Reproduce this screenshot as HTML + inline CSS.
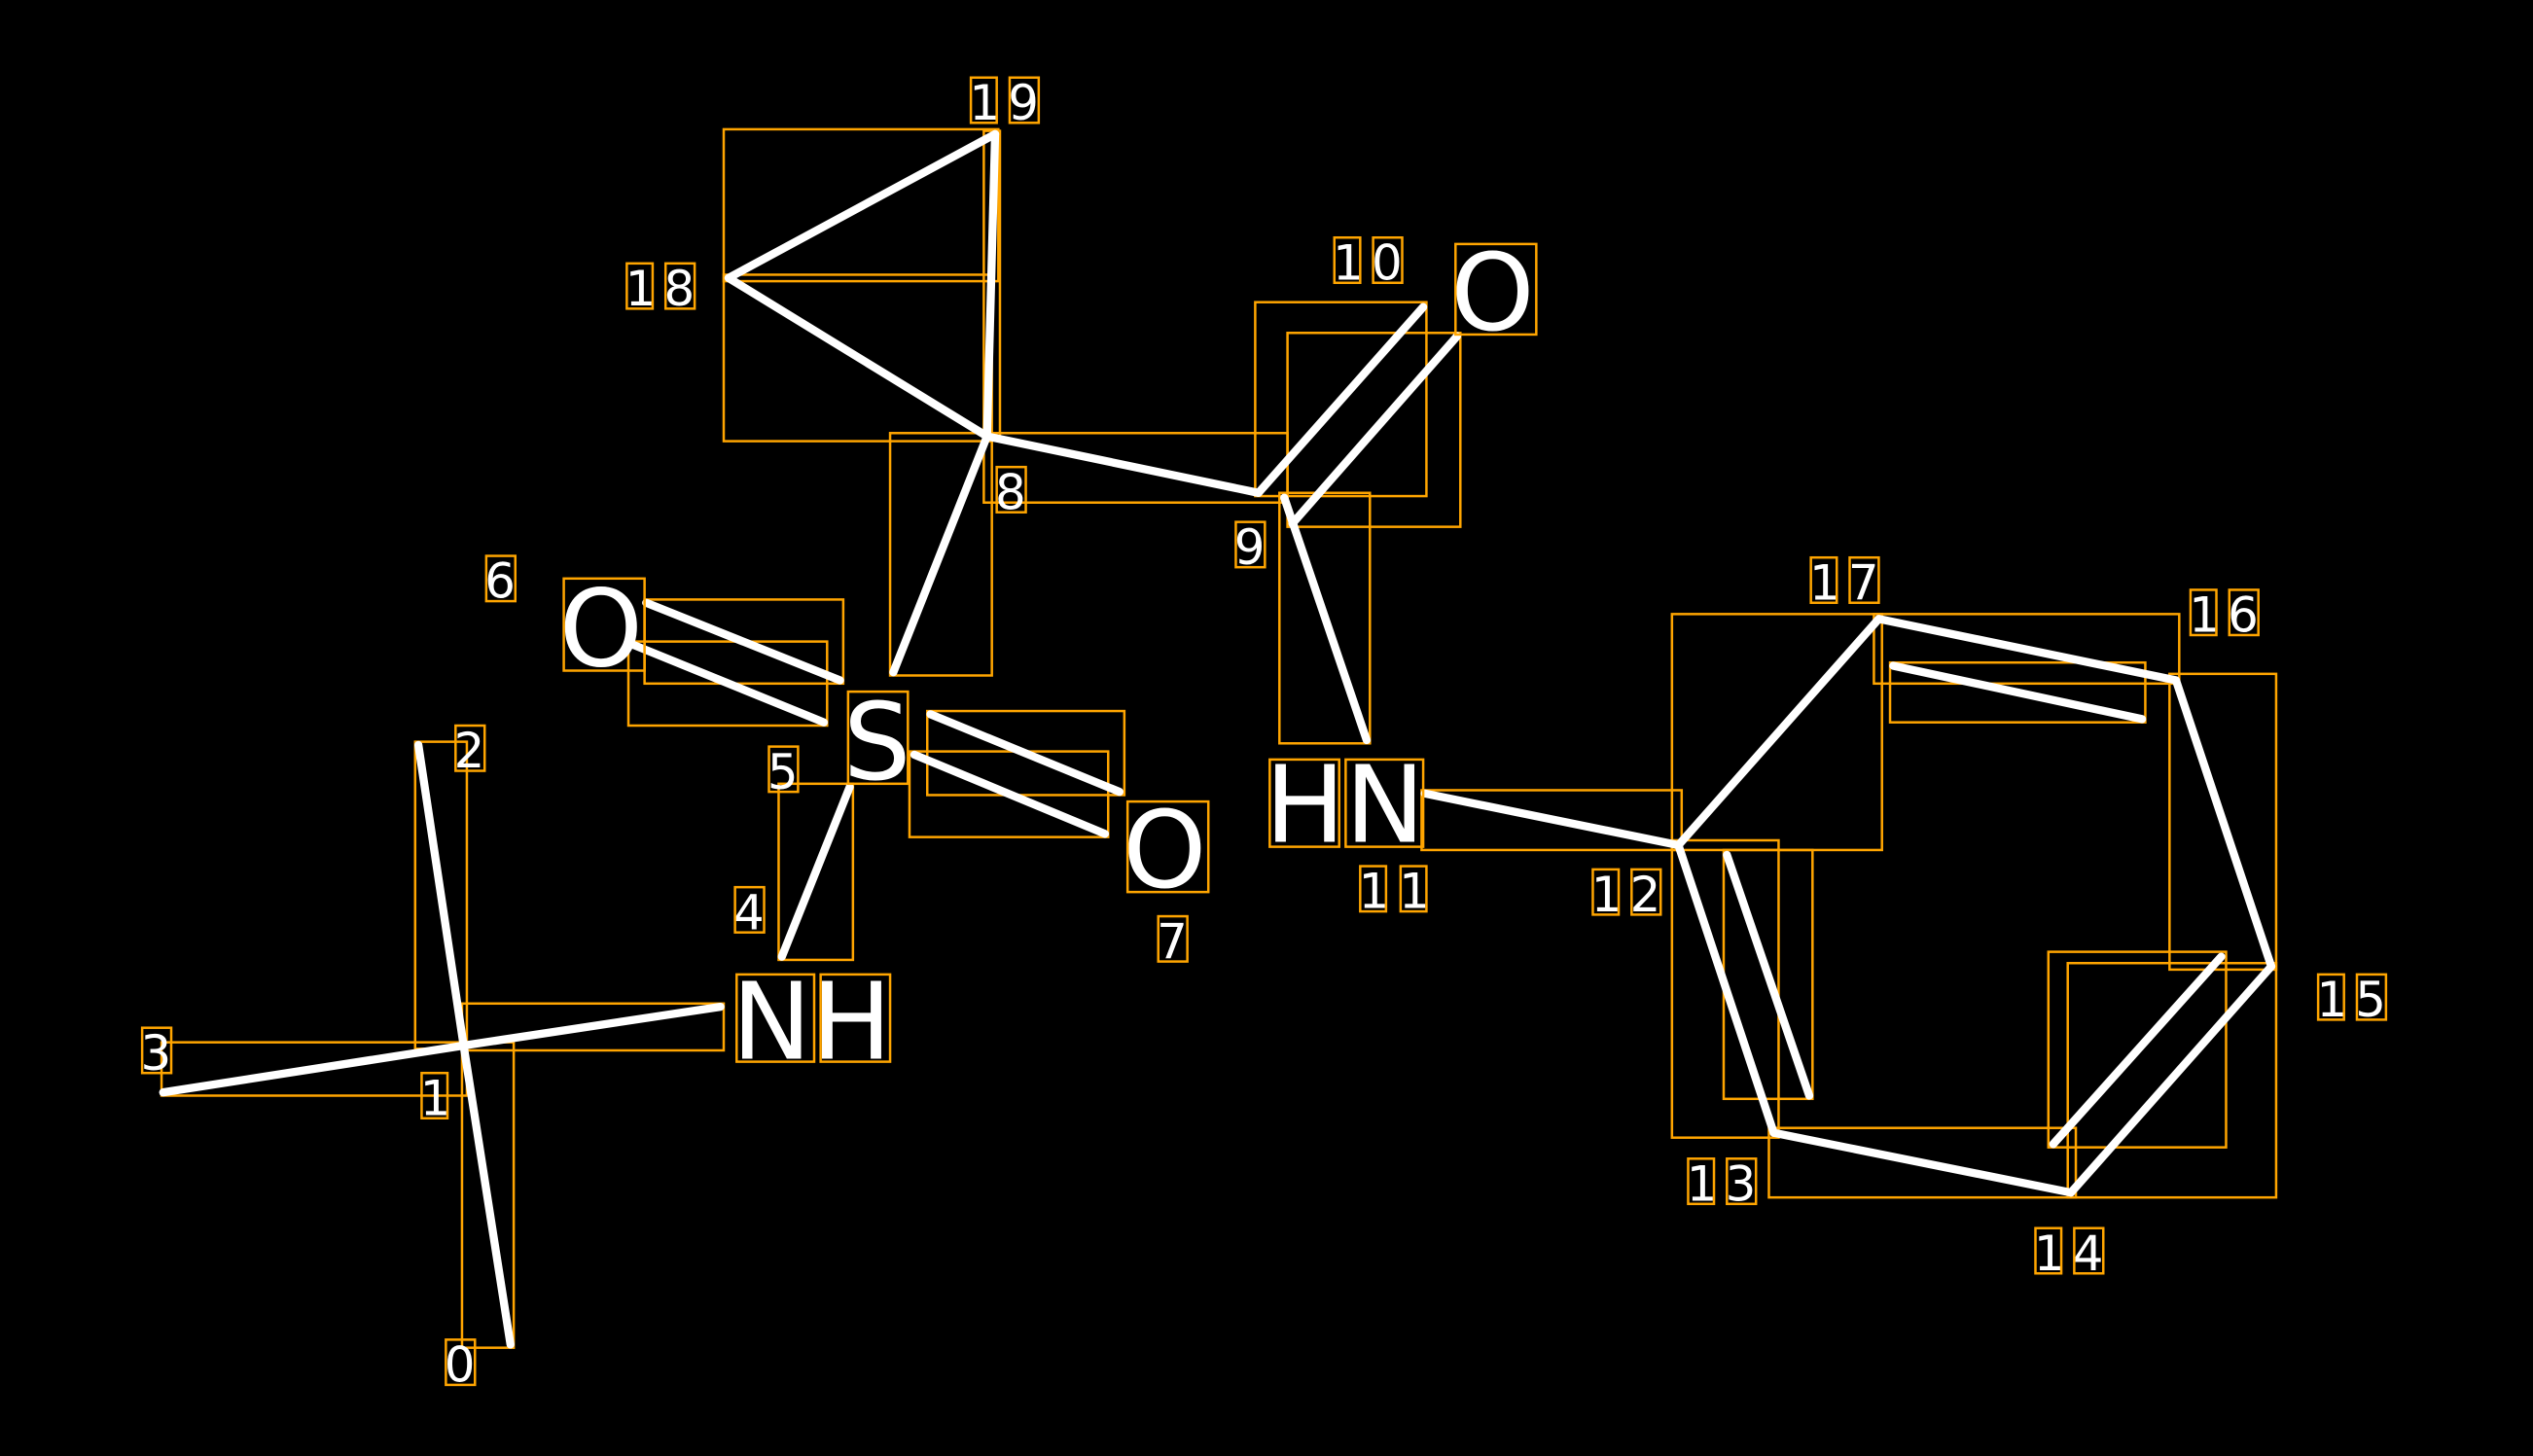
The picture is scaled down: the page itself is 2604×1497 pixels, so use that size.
<!DOCTYPE html>
<html><head><meta charset="utf-8"><style>
html,body{margin:0;padding:0;background:#000;width:2604px;height:1497px;overflow:hidden}
svg{display:block}
.b{stroke:#fff;stroke-width:5;stroke-linecap:round}
.r{fill:none;stroke:#ffa500;stroke-width:1.5}
.n{fill:#fff;font-family:"DejaVu Sans","Liberation Sans",sans-serif;font-size:30px}
.a{fill:#fff;font-family:"DejaVu Sans","Liberation Sans",sans-serif;font-size:66px}
</style></head><body>
<svg width="2604" height="1497" viewBox="0 0 1568 901" preserveAspectRatio="none" xmlns="http://www.w3.org/2000/svg">
<rect width="1568" height="901" fill="#000"/>
<!-- bond boxes -->
<g class="r">
<rect x="286" y="645" width="32" height="189"/>
<rect x="257" y="459" width="32" height="190"/>
<rect x="100" y="645" width="189" height="33"/>
<rect x="286" y="621" width="162" height="29"/>
<rect x="482" y="485" width="46" height="109"/>
<rect x="399" y="371" width="123" height="52"/>
<rect x="389" y="397" width="123" height="52"/>
<rect x="574" y="440" width="122" height="52"/>
<rect x="563" y="465" width="123" height="53"/>
<rect x="551" y="268" width="63" height="150"/>
<rect x="448" y="80" width="170" height="94"/>
<rect x="448" y="170" width="166" height="103"/>
<rect x="609" y="81" width="10" height="191"/>
<rect x="609" y="268" width="188" height="43"/>
<rect x="777" y="187" width="106" height="120"/>
<rect x="797" y="206" width="107" height="120"/>
<rect x="792" y="305" width="56" height="155"/>
<rect x="880" y="489" width="161" height="37"/>
<rect x="1035" y="380" width="130" height="146"/>
<rect x="1160" y="380" width="189" height="43"/>
<rect x="1170" y="410" width="158" height="37"/>
<rect x="1343" y="417" width="66" height="183"/>
<rect x="1280" y="596" width="129" height="145"/>
<rect x="1268" y="589" width="110" height="121"/>
<rect x="1095" y="698" width="190" height="43"/>
<rect x="1035" y="520" width="66" height="184"/>
<rect x="1067" y="526" width="55" height="154"/>
</g>
<!-- bonds -->
<g class="b">
<line x1="316" y1="832" x2="287" y2="647"/>
<line x1="287" y1="647" x2="259" y2="461"/>
<line x1="287" y1="647" x2="101" y2="676"/>
<line x1="287" y1="647" x2="446" y2="623"/>
<line x1="484" y1="592" x2="526" y2="487"/>
<line x1="400" y1="373" x2="520" y2="421"/>
<line x1="392" y1="399" x2="510" y2="447"/>
<line x1="576" y1="442" x2="693" y2="490"/>
<line x1="566" y1="467" x2="684" y2="516"/>
<line x1="553" y1="416" x2="611" y2="270"/>
<line x1="451" y1="172" x2="616" y2="83"/>
<line x1="451" y1="172" x2="611" y2="270"/>
<line x1="616" y1="83" x2="611" y2="270"/>
<line x1="611" y1="270" x2="779" y2="305"/>
<line x1="779" y1="305" x2="881" y2="190"/>
<line x1="800" y1="324" x2="902" y2="208"/>
<line x1="795" y1="308" x2="846" y2="458"/>
<line x1="882" y1="491" x2="1039" y2="523"/>
<line x1="1039" y1="523" x2="1163" y2="383"/>
<line x1="1163" y1="383" x2="1347" y2="421"/>
<line x1="1172" y1="412" x2="1326" y2="445"/>
<line x1="1347" y1="421" x2="1406" y2="598"/>
<line x1="1406" y1="598" x2="1282" y2="738"/>
<line x1="1375" y1="592" x2="1271" y2="708"/>
<line x1="1282" y1="738" x2="1098" y2="701"/>
<line x1="1098" y1="701" x2="1039" y2="523"/>
<line x1="1069" y1="529" x2="1120" y2="678"/>
</g>
<!-- atom labels -->
<g class="a">
<text x="346" y="412">O</text>
<text x="522" y="482">S</text>
<text x="695" y="549">O</text>
<text x="898" y="204">O</text>
<text x="453" y="655">NH</text>
<text x="783" y="521">HN</text>
</g>
<g class="r">
<rect x="349" y="358" width="50" height="57"/>
<rect x="525" y="428" width="37" height="57"/>
<rect x="698" y="496" width="50" height="56"/>
<rect x="901" y="151" width="50" height="56"/>
<rect x="456" y="603" width="48" height="54"/><rect x="508" y="603" width="43" height="54"/>
<rect x="786" y="470" width="43" height="54"/><rect x="833" y="470" width="48" height="54"/>
</g>
<!-- number labels -->
<g class="n">
<text x="275" y="855">0</text>
<text x="260" y="690">1</text>
<text x="281" y="475">2</text>
<text x="87" y="662">3</text>
<text x="454" y="575">4</text>
<text x="475" y="488">5</text>
<text x="300" y="370">6</text>
<text x="716" y="593">7</text>
<text x="616" y="315">8</text>
<text x="764" y="349">9</text>
<text x="825" y="173">1</text><text x="849" y="173">0</text>
<text x="841" y="562">1</text><text x="866" y="562">1</text>
<text x="985" y="564">1</text><text x="1009" y="564">2</text>
<text x="1044" y="743">1</text><text x="1068" y="743">3</text>
<text x="1259" y="786">1</text><text x="1283" y="786">4</text>
<text x="1434" y="629">1</text><text x="1458" y="629">5</text>
<text x="1355" y="391">1</text><text x="1379" y="391">6</text>
<text x="1120" y="371">1</text><text x="1144" y="371">7</text>
<text x="387" y="189">1</text><text x="411" y="189">8</text>
<text x="600" y="74">1</text><text x="624" y="74">9</text>
</g>
<g class="r">
<rect x="276" y="829" width="18" height="28"/>
<rect x="261" y="664" width="16" height="28"/>
<rect x="282" y="449" width="18" height="28"/>
<rect x="88" y="636" width="18" height="28"/>
<rect x="455" y="549" width="18" height="28"/>
<rect x="476" y="462" width="18" height="28"/>
<rect x="301" y="344" width="18" height="28"/>
<rect x="717" y="567" width="18" height="28"/>
<rect x="617" y="289" width="18" height="28"/>
<rect x="765" y="323" width="18" height="28"/>
<rect x="826" y="147" width="16" height="28"/><rect x="850" y="147" width="18" height="28"/>
<rect x="842" y="536" width="16" height="28"/><rect x="867" y="536" width="16" height="28"/>
<rect x="986" y="538" width="16" height="28"/><rect x="1010" y="538" width="18" height="28"/>
<rect x="1045" y="717" width="16" height="28"/><rect x="1069" y="717" width="18" height="28"/>
<rect x="1260" y="760" width="16" height="28"/><rect x="1284" y="760" width="18" height="28"/>
<rect x="1435" y="603" width="16" height="28"/><rect x="1459" y="603" width="18" height="28"/>
<rect x="1356" y="365" width="16" height="28"/><rect x="1380" y="365" width="18" height="28"/>
<rect x="1121" y="345" width="16" height="28"/><rect x="1145" y="345" width="18" height="28"/>
<rect x="388" y="163" width="16" height="28"/><rect x="412" y="163" width="18" height="28"/>
<rect x="601" y="48" width="16" height="28"/><rect x="625" y="48" width="18" height="28"/>
</g>
</svg>
</body></html>
